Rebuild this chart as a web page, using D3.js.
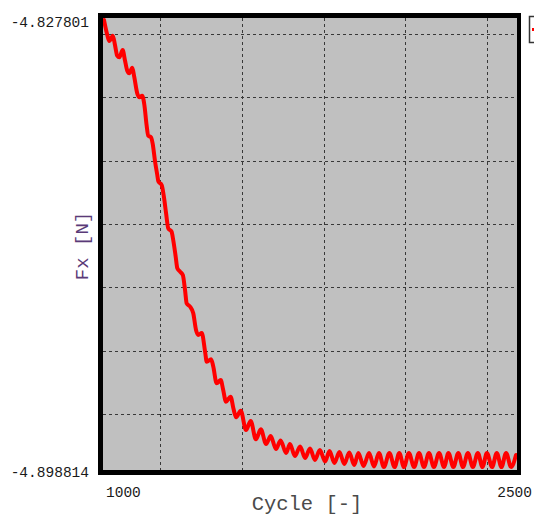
<!DOCTYPE html>
<html>
<head>
<meta charset="utf-8">
<script src="https://cdn.jsdelivr.net/npm/d3@7"></script>
<style>
  html, body { margin: 0; padding: 0; background: #ffffff; }
  svg { display: block; }
</style>
</head>
<body>
<svg id="chart" width="534" height="515"></svg>
<script>
// ---- data ----
const cycles = [
  1000,1012,1019,1032,1040,1048,1056,1068,1076,1085,
  1092,1103,1110,1121,1129,1139,1147,1155,1161,1171,
  1177,1186,1194,1198,1210,1218,1226,1234,1246,1252,
  1261,1267,1277,1287,1295,1301,1313,1325,1335,1343,
  1356,1368,1374,1390,1398,1410,1425,1434,1444,1461,
  1471,1481,1498,1517,1534,1553,1571,1590,1607,1626,
  1643,1663,1677,1695,1714,1732,1750,1768,1786,1805,
  1821,1839,1857,1875,1893,1911,1926,1945,1965,1983,
  2001,2019,2039,2058,2075,2092,2110,2129,2147,2165,
  2183,2201,2220,2238,2254,2272,2290,2307,2325,2343,
  2361,2378,2394,2413,2430,2447,2464,2482,2500
];
const fx = [
  -4.82780,-4.83017,-4.83111,-4.83028,-4.83175,-4.83343,-4.83369,-4.83253,-4.83411,-4.83585,
  -4.83621,-4.83533,-4.83675,-4.83937,-4.84000,-4.83975,-4.84121,-4.84437,-4.84606,-4.84631,
  -4.84726,-4.85016,-4.85226,-4.85329,-4.85384,-4.85568,-4.85830,-4.86067,-4.86121,-4.86252,
  -4.86515,-4.86698,-4.86752,-4.86804,-4.87041,-4.87251,-4.87301,-4.87408,-4.87672,-4.87751,
  -4.87719,-4.88014,-4.88172,-4.88134,-4.88251,-4.88513,-4.88461,-4.88619,-4.88803,-4.88724,
  -4.88907,-4.89049,-4.88945,-4.89250,-4.89108,-4.89397,-4.89239,-4.89471,-4.89345,-4.89550,
  -4.89416,-4.89613,-4.89471,-4.89660,-4.89510,-4.89692,-4.89542,-4.89723,-4.89565,-4.89747,
  -4.89581,-4.89771,-4.89597,-4.89786,-4.89605,-4.89802,-4.89613,-4.89818,-4.89613,-4.89826,
  -4.89613,-4.89834,-4.89613,-4.89834,-4.89613,-4.89834,-4.89613,-4.89834,-4.89613,-4.89834,
  -4.89613,-4.89834,-4.89613,-4.89834,-4.89613,-4.89834,-4.89613,-4.89834,-4.89613,-4.89834,
  -4.89613,-4.89834,-4.89613,-4.89834,-4.89613,-4.89834,-4.89613,-4.89834,-4.89644
];
const xDomain = [1000, 2500];
const yDomain = [-4.898814, -4.827801];
const xTickLabels = ["1000", "2500"];
const yTickValues = [-4.827801, -4.898814];
const yTickLabels = ["-4.827801", "-4.898814"];
const xGridValues = [1204, 1502, 1801, 2096, 2394];
const yGridValues = [-4.83, -4.84, -4.85, -4.86, -4.87, -4.88, -4.89];
const xTitle = "Cycle [-]";
const yTitle = "Fx [N]";

// ---- drawing ----
const svg = d3.select("#chart");
const mono = "'Courier New', 'Liberation Mono', monospace";

const x = d3.scaleLinear().domain(xDomain).range([104, 516]);
const y = d3.scaleLinear().domain(yDomain).range([470, 20]);

// frame
svg.append("rect").attr("x", 98).attr("y", 13).attr("width", 423).attr("height", 462).attr("fill", "#000");
svg.append("rect").attr("x", 103).attr("y", 18).attr("width", 414).attr("height", 452).attr("fill", "#c0c0c0");

svg.append("defs").append("clipPath").attr("id", "plotclip")
  .append("rect").attr("x", 103).attr("y", 18).attr("width", 414).attr("height", 452);

const grid = svg.append("g").attr("stroke", "#383838").attr("stroke-width", 1).attr("stroke-dasharray", "3,3");
grid.selectAll("line.v").data(xGridValues).join("line").attr("class", "v")
  .attr("x1", d => Math.round(x(d)) + 0.5).attr("x2", d => Math.round(x(d)) + 0.5)
  .attr("y1", 18).attr("y2", 470);
grid.selectAll("line.h").data(yGridValues).join("line").attr("class", "h")
  .attr("y1", d => Math.round(y(d)) + 0.5).attr("y2", d => Math.round(y(d)) + 0.5)
  .attr("x1", 103).attr("x2", 517);

// curve
const pts = cycles.map((c, i) => [c, fx[i]]);
const line = d3.line().x(d => x(d[0])).y(d => y(d[1])).curve(d3.curveMonotoneX);
svg.append("path").datum(pts)
  .attr("clip-path", "url(#plotclip)")
  .attr("d", line)
  .attr("fill", "none").attr("stroke", "#ff0000").attr("stroke-width", 4)
  .attr("stroke-linejoin", "round").attr("stroke-linecap", "round");

// y tick labels
svg.selectAll("text.yt").data(yTickValues).join("text").attr("class", "yt")
  .attr("x", 89).attr("y", d => y(d) + 6.5)
  .attr("text-anchor", "end")
  .attr("font-family", mono).attr("font-size", "14.5px").attr("fill", "#1a1a1a")
  .text((d, i) => yTickLabels[i]);

// x tick labels
svg.selectAll("text.xt").data(xTickLabels).join("text").attr("class", "xt")
  .attr("x", (d, i) => i === 0 ? x(+d) + 2 : x(+d) + 16)
  .attr("y", 497)
  .attr("text-anchor", (d, i) => i === 0 ? "start" : "end")
  .attr("font-family", mono).attr("font-size", "14.5px").attr("fill", "#1a1a1a")
  .text(d => d);

// axis titles
svg.append("text").attr("x", 307).attr("y", 510).attr("text-anchor", "middle")
  .attr("font-family", mono).attr("font-size", "20.5px").attr("fill", "#4a4a4a")
  .text(xTitle);
svg.append("text").attr("transform", "translate(88,246) rotate(-90)").attr("text-anchor", "middle")
  .attr("font-family", mono).attr("font-size", "19px").attr("fill", "#5a3a78")
  .text(yTitle);

// legend box (cut off at right edge)
svg.append("rect").attr("x", 529.5).attr("y", 16.5).attr("width", 30).attr("height", 26)
  .attr("fill", "#fff").attr("stroke", "#333").attr("stroke-width", 1.5);
svg.append("line").attr("x1", 532).attr("x2", 560).attr("y1", 29.5).attr("y2", 29.5)
  .attr("stroke", "#ff0000").attr("stroke-width", 3);
</script>
</body>
</html>
